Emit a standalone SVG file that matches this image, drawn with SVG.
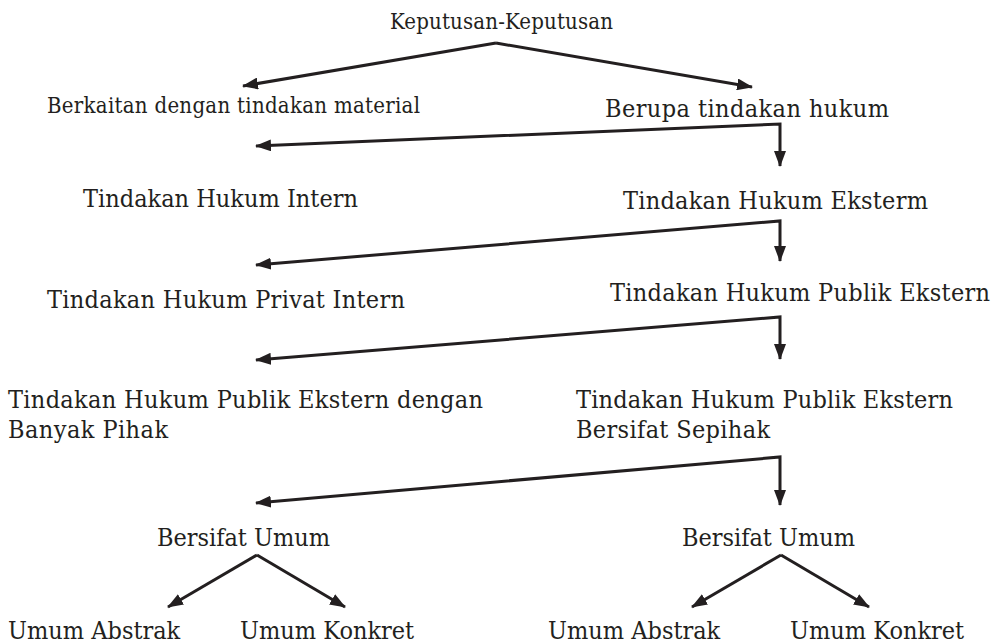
<svg xmlns="http://www.w3.org/2000/svg" width="995" height="644" viewBox="0 0 995 644">
<defs>
<style>
text{font-family:"DejaVu Serif","Liberation Serif",serif;font-stretch:condensed;fill:#231f20;font-size:25px}
.s{font-size:22px}
.c{fill:none;stroke:#231f20;stroke-width:3;stroke-linejoin:miter}
</style>
<marker id="ah" viewBox="0 0 16 12" refX="15" refY="6" markerWidth="16" markerHeight="12" markerUnits="userSpaceOnUse" orient="auto-start-reverse">
<path d="M0,0 L16,6 L0,12 Z" fill="#231f20"/>
</marker>
</defs>
<rect width="995" height="644" fill="#ffffff"/>
<g id="connectors">
<path class="c" d="M496,43 L243,86" marker-end="url(#ah)"/>
<path class="c" d="M496,43 L752,87" marker-end="url(#ah)"/>
<path class="c" d="M256,146 L780,124 L780,166" marker-start="url(#ah)" marker-end="url(#ah)"/>
<path class="c" d="M256,265 L780,221 L780,261" marker-start="url(#ah)" marker-end="url(#ah)"/>
<path class="c" d="M256,360 L780,317 L780,359" marker-start="url(#ah)" marker-end="url(#ah)"/>
<path class="c" d="M256,503 L780,457 L780,505" marker-start="url(#ah)" marker-end="url(#ah)"/>
<path class="c" d="M257,555 L168,607" marker-end="url(#ah)"/>
<path class="c" d="M257,555 L345,607" marker-end="url(#ah)"/>
<path class="c" d="M781,555 L692,607" marker-end="url(#ah)"/>
<path class="c" d="M781,555 L869,607" marker-end="url(#ah)"/>
</g>
<g id="n-root"><text class="s" x="390" y="29" textLength="223">Keputusan-Keputusan</text></g>
<g id="n-material"><text class="s" x="47" y="113" textLength="373">Berkaitan dengan tindakan material</text></g>
<g id="n-hukum"><text x="605" y="117" textLength="284">Berupa tindakan hukum</text></g>
<g id="n-intern"><text x="83" y="207" textLength="275">Tindakan Hukum Intern</text></g>
<g id="n-eksterm"><text x="623" y="209" textLength="305">Tindakan Hukum Eksterm</text></g>
<g id="n-privat"><text x="47" y="308" textLength="358">Tindakan Hukum Privat Intern</text></g>
<g id="n-publik"><text x="610" y="301" textLength="380">Tindakan Hukum Publik Ekstern</text></g>
<g id="n-banyak"><text x="8" y="408" textLength="475">Tindakan Hukum Publik Ekstern dengan</text><text x="8" y="438" textLength="160">Banyak Pihak</text></g>
<g id="n-sepihak"><text x="576" y="408" textLength="377">Tindakan Hukum Publik Ekstern</text><text x="576" y="438" textLength="194">Bersifat Sepihak</text></g>
<g id="n-umum1"><text x="157" y="546" textLength="173">Bersifat Umum</text></g>
<g id="n-umum2"><text x="682" y="546" textLength="173">Bersifat Umum</text></g>
<g id="n-abs1"><text x="8" y="639">Umum Abstrak</text></g>
<g id="n-kon1"><text x="240" y="639">Umum Konkret</text></g>
<g id="n-abs2"><text x="548" y="639">Umum Abstrak</text></g>
<g id="n-kon2"><text x="790" y="639">Umum Konkret</text></g>
</svg>
